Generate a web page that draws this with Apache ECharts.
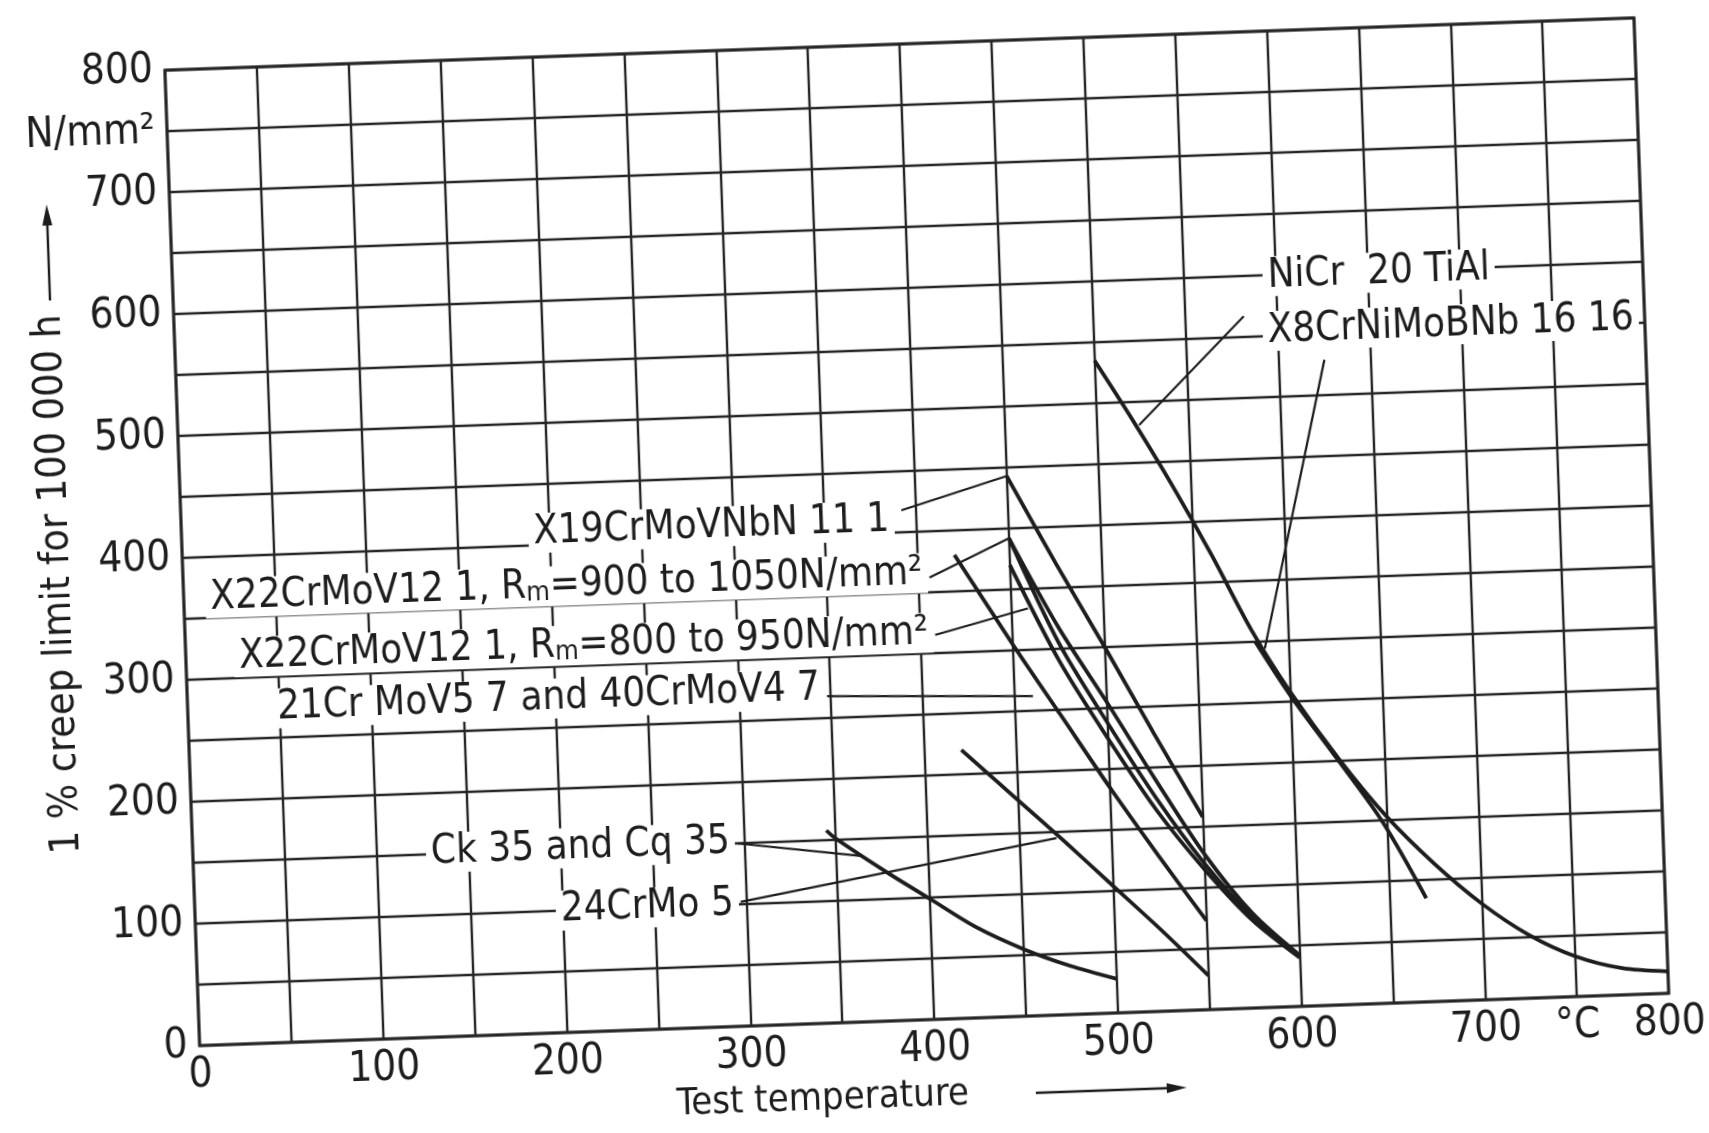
<!DOCTYPE html>
<html><head><meta charset="utf-8">
<script src="https://cdn.jsdelivr.net/npm/echarts@6/dist/echarts.min.js"></script>
<style>
html,body{margin:0;padding:0;background:#fff;overflow:hidden;width:1709px;height:1133px}
#c{width:1709px;height:1133px;transform:rotate(-2.04deg);transform-origin:50% 50%;}
</style></head><body><div id="c"></div>
<script>
const FONT = '"DejaVu Sans Condensed","Liberation Sans",Arial,sans-serif';
const INK = '#1d1d1d';

// tick labels
const xTickValues = [0,100,200,300,400,500,600,700,800];
const yTickValues = [0,100,200,300,400,500,600,700,800];
const xUnit = {value: 750, text: '°C'};
const yUnit = {value: 750, text: 'N/mm²'};

// curves: [temperature °C, 1% creep limit N/mm²]
const ck35      = [[345,158],[350,151],[378,121],[400,99],[425,74],[450,55],[475,40],[500,28]];
const crMo24    = [[420,220],[450,177],[475,141],[500,104],[525,67],[550,28]];
const crMoV21   = [[420,380],[450,305],[475,245],[500,185],[525,128],[550,73]];
const x22_800   = [[450,370],[475,290],[500,225],[525,165],[550,115],[575,72],[600,40]];
const x22_band  = [[450,392],[475,305],[500,238],[525,175],[550,120],[575,75],[600,41]];
const x22_900   = [[450,392],[475,318],[500,255],[525,190],[550,128],[575,78],[600,42]];
const x19       = [[450,443],[475,370],[500,300],[525,228],[550,158]];
const x8        = [[582,300],[600,255],[625,200],[648,148],[670,85]];
const niCr      = [[500,535],[520,484],[540,430],[560,372],[580,310],[600,258],[625,202],[650,153],[675,113],[700,79],[725,52],[750,33],[775,22],[800,18]];

// leader lines from labels to curves
const leaders = [
  [[582,567],[523,481]],
  [[625,529],[587,294]],
  [[392,418],[450,443]],
  [[406,362],[450,392]],
  [[408,315],[459,334]],
  [[348,268],[460,262]],
  [[296,150],[364,136]],
  [[297,102],[470,145]]
];

// curve labels (anchor in data coords)
const labelDefs = [
  {text:'NiCr  20 TiAl', at:[593,599], align:'left'},
  {text:'X8CrNiMoBNb 16 16', at:[592,554], align:'left'},
  {text:'X19CrMoVNbN 11 1', at:[388,410], align:'right'},
  {text:'X22CrMoV12 1, R{s|m}=900 to 1050N/mm²', at:[405,366], align:'right'},
  {text:'X22CrMoV12 1, R{s|m}=800 to 950N/mm²', at:[407,317], align:'right'},
  {text:'21Cr MoV5 7 and 40CrMoV4 7', at:[347,274], align:'right'},
  {text:'Ck 35 and Cq 35', at:[295,151], align:'right'},
  {text:'24CrMo 5', at:[296,100], align:'right'}
];

const curves = [
  ['Ck 35 and Cq 35', ck35],
  ['24CrMo 5', crMo24],
  ['21CrMoV5 7 and 40CrMoV4 7', crMoV21],
  ['X22CrMoV12 1, Rm=800 to 950', x22_800],
  ['X22CrMoV12 1', x22_band],
  ['X22CrMoV12 1, Rm=900 to 1050', x22_900],
  ['X19CrMoVNbN 11 1', x19],
  ['X8CrNiMoBNb 16 16', x8],
  ['NiCr 20 TiAl', niCr]
];

const chart = echarts.init(document.getElementById('c'), null, {renderer:'canvas'});

const axisCommon = {
  type:'value', min:0, max:800, interval:50,
  axisLine:{show:false}, axisTick:{show:false},
  splitLine:{show:true, lineStyle:{color:'#262626', width:2.4}}
};

const series = curves.map(([name, d]) => ({
  name, type:'line', data:d, showSymbol:false, smooth:0.3,
  lineStyle:{color:INK, width:3.8}, silent:true, z:3, animation:false
}));
leaders.forEach((d,i) => series.push({
  name:'leader'+i, type:'line', data:d, showSymbol:false,
  lineStyle:{color:INK, width:2.2}, silent:true, z:3, animation:false
}));

chart.setOption({
  backgroundColor:'#fff',
  animation:false,
  grid:{left:183, right:56, top:46, bottom:111, show:true, borderColor:'#222', borderWidth:3},
  xAxis: Object.assign({}, axisCommon, {
    axisLabel:{margin:9, fontSize:42, fontFamily:FONT, color:INK,
      formatter: v => xTickValues.includes(v) ? String(v) : (v === xUnit.value ? xUnit.text : '')}
  }),
  yAxis: Object.assign({}, axisCommon, {
    axisLabel:{margin:12, fontSize:42, fontFamily:FONT, color:INK,
      formatter: v => yTickValues.includes(v) ? String(v) : (v === yUnit.value ? yUnit.text : '')}
  }),
  series
});

const graphics = labelDefs.map(l => {
  const p = chart.convertToPixel({gridIndex:0}, l.at);
  return {
    type:'text', x:p[0], y:p[1], z:100, silent:true,
    style:{
      text:l.text, fill:INK, font:'40px ' + FONT, lineHeight:40,
      align:l.align, verticalAlign:'middle',
      backgroundColor:'#fff', padding:[0,5,0,5],
      rich:{ s:{ fontSize:27, fontFamily:FONT, fill:INK, lineHeight:18, verticalAlign:'bottom' } }
    }
  };
});

// axis titles with arrows
graphics.push({
  type:'text', x:58, y:826, rotation:Math.PI/2, z:100, silent:true,
  style:{text:'1 % creep limit for 100 000 h', fill:INK, font:'41px ' + FONT, align:'left', verticalAlign:'middle'}
});
graphics.push({type:'line', z:100, silent:true, shape:{x1:60, y1:272, x2:60, y2:190}, style:{stroke:INK, lineWidth:2.4}});
graphics.push({type:'polygon', z:100, silent:true, shape:{points:[[60,176],[55,197],[65,197]]}, style:{fill:INK}});

graphics.push({
  type:'text', x:804, y:1098, z:100, silent:true,
  style:{text:'Test temperature', fill:INK, font:'38px ' + FONT, align:'center', verticalAlign:'middle'}
});
graphics.push({type:'line', z:100, silent:true, shape:{x1:1017, y1:1099, x2:1152, y2:1099}, style:{stroke:INK, lineWidth:2.4}});
graphics.push({type:'polygon', z:100, silent:true, shape:{points:[[1168,1099],[1148,1094],[1148,1104]]}, style:{fill:INK}});

chart.setOption({graphic: graphics});
</script>
</body></html>
